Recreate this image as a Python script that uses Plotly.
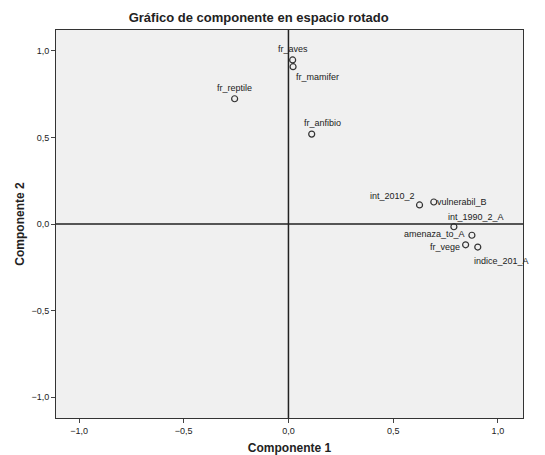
import plotly.graph_objects as go

labels = ["fr_aves", "fr_mamifer", "fr_reptile", "fr_anfibio", "int_2010_2", "vulnerabil_B",
          "int_1990_2_A", "amenaza_to_A", "fr_vege", "indice_201_A"]
comp1 = [0.020, 0.022, -0.257, 0.111, 0.626, 0.694, 0.790, 0.876, 0.846, 0.904]
comp2 = [0.947, 0.908, 0.723, 0.519, 0.110, 0.127, -0.016, -0.065, -0.120, -0.133]
# label offsets (pixels, +dy = down) and anchors
offs = [(0, -11, "center"), (1, 10, "left"), (0, -11, "center"), (-10, -11, "left"),
        (-3, -9, "right"), (1, 0, "left"), (-8, -10, "left"), (-5, -1, "right"),
        (-4, 2, "right"), (-6, 14, "left")]

fig = go.Figure(go.Scatter(x=comp1, y=comp2, mode="markers",
                           marker=dict(symbol="circle-open", size=6, color="#333", line=dict(width=1.2)),
                           hoverinfo="skip"))
for l, x, y, (dx, dy, a) in zip(labels, comp1, comp2, offs):
    fig.add_annotation(x=x, y=y, text=l, showarrow=False, xshift=dx, yshift=-dy,
                       xanchor=a, font=dict(size=9, color="#222", family="Arial"))

fig.add_shape(type="line", x0=0, x1=0, y0=-1.12, y1=1.12, line=dict(color="#222", width=1.5))
fig.add_shape(type="line", x0=-1.11, x1=1.12, y0=0, y1=0, line=dict(color="#222", width=1.5))

ax = dict(range=[-1.11, 1.12], tickvals=[-1, -0.5, 0, 0.5, 1], tickformat=".1f",
          ticks="outside", ticklen=4, showgrid=False, zeroline=False, showline=True,
          linecolor="#333", mirror=True, automargin=False,
          tickfont=dict(size=9, family="Arial", color="#222"))
fig.update_layout(
    width=545, height=455, separators=",.",
    margin=dict(l=48, r=30, t=22, b=45, autoexpand=False),
    paper_bgcolor="white", plot_bgcolor="#f0f0f0", showlegend=False,
    title=dict(text="<b>Gráfico de componente en espacio rotado</b>", x=0.46, xanchor="center",
               y=0.99, yanchor="top", font=dict(size=13, family="Arial", color="#222")),
    xaxis=dict(ax, title=dict(text="<b>Componente 1</b>", font=dict(size=12, family="Arial", color="#222"), standoff=8)),
    yaxis=dict(ax, range=[-1.12, 1.12], title=dict(text="<b>Componente 2</b>", font=dict(size=12, family="Arial", color="#222"), standoff=4)),
)
fig.write_html("out.html")
